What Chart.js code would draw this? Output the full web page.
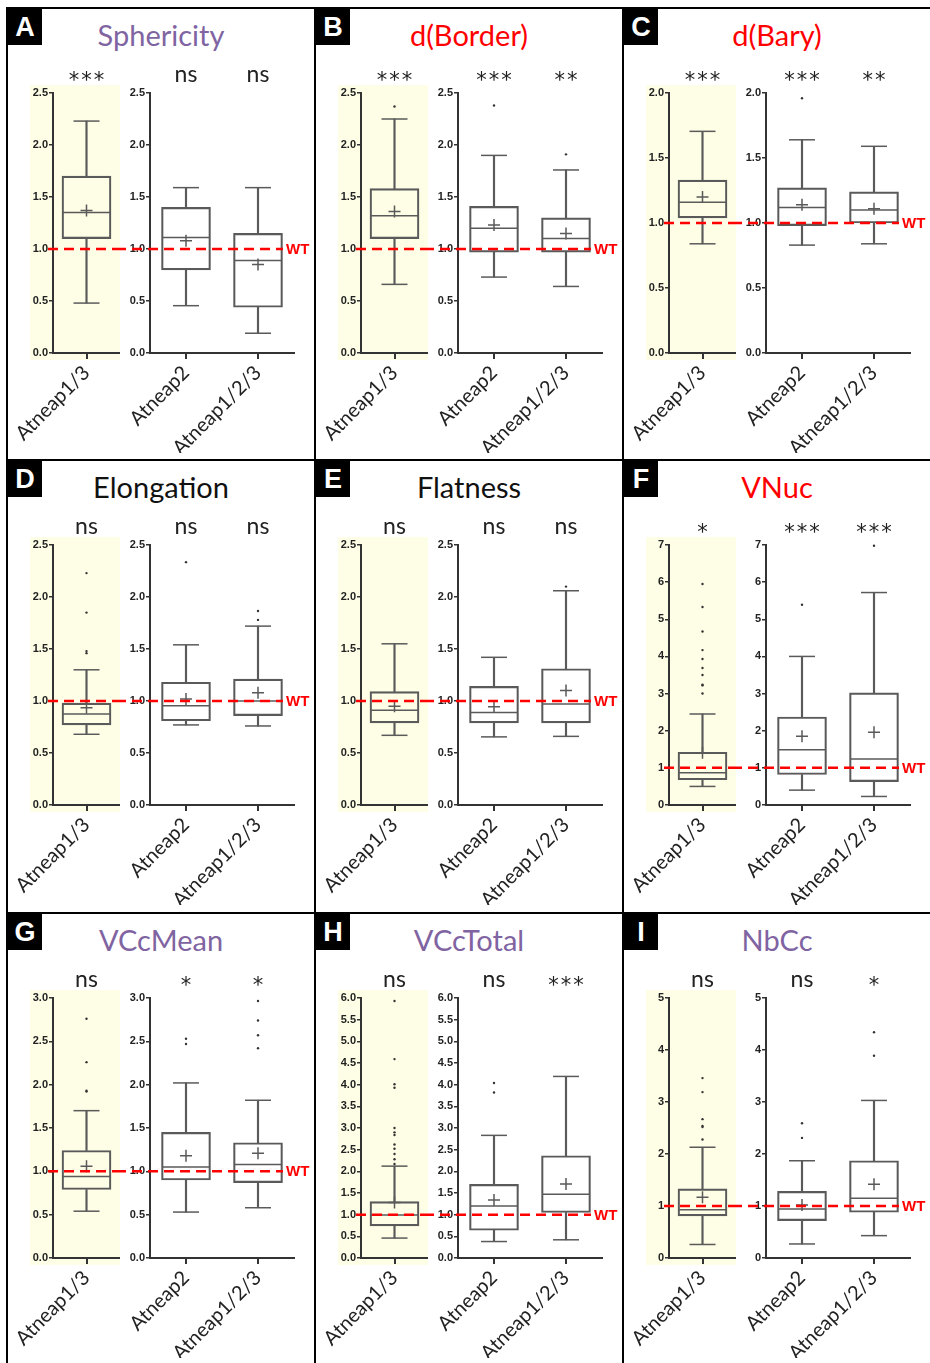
<!DOCTYPE html>
<html>
<head>
<meta charset="utf-8">
<script src="https://cdn.jsdelivr.net/npm/chart.js@4.4.1/dist/chart.umd.min.js"></script>
<style>
    body { margin: 0; background: #fff; }
    #fig { position: relative; width: 930px; height: 1363px; overflow: hidden; background: #fff; }
    .panel { position: absolute; box-sizing: border-box; border-left: 2px solid #000; border-top: 2px solid #000; overflow: hidden; }
    .letter { position: absolute; left: 0; top: 0; width: 34px; height: 36px; background: #000; color: #fff;
              font: bold 27px "Liberation Sans", Arial, sans-serif; text-align: center; line-height: 37px; }
    .title { position: absolute; left: 0; width: 306px; top: 6px; height: 40px; line-height: 40px; text-align: center;
             font-family: Lato, "Open Sans", sans-serif; font-size: 29px; }
    canvas { position: absolute; }
</style>
</head>
<body>
<div id="fig"></div>
<script>
// groups shown in every panel
const groups = ['Atneap1/3', 'Atneap2', 'Atneap1/2/3'];
const letters = ['A', 'B', 'C', 'D', 'E', 'F', 'G', 'H', 'I'];
const titles = ['Sphericity', 'd(Border)', 'd(Bary)', 'Elongation', 'Flatness', 'VNuc', 'VCcMean', 'VCcTotal', 'NbCc'];

// y axis range per panel
const yMax = [2.5, 2.5, 2.0, 2.5, 2.5, 7, 3.0, 6.0, 5];
const yStep = [0.5, 0.5, 0.5, 0.5, 0.5, 1, 0.5, 0.5, 1];

// box plot values, one row per panel, one column per group
const whiskerLow = [
    [0.48, 0.455, 0.19],
    [0.66, 0.73, 0.64],
    [0.84, 0.83, 0.84],
    [0.68, 0.77, 0.76],
    [0.67, 0.655, 0.66],
    [0.50, 0.40, 0.23],
    [0.54, 0.53, 0.58],
    [0.46, 0.38, 0.42],
    [0.26, 0.27, 0.43]
];
const q1 = [
    [1.10, 0.80, 0.44],
    [1.10, 0.97, 0.97],
    [1.04, 0.98, 1.00],
    [0.77, 0.81, 0.86],
    [0.79, 0.79, 0.79],
    [0.68, 0.82, 0.63],
    [0.79, 0.90, 0.87],
    [0.74, 0.64, 1.05],
    [0.81, 0.72, 0.88]
];
const median = [
    [1.35, 1.11, 0.89],
    [1.32, 1.20, 1.10],
    [1.16, 1.12, 1.10],
    [0.875, 0.955, 1.00],
    [0.91, 0.89, 0.97],
    [0.87, 1.49, 1.24],
    [0.94, 1.05, 1.08],
    [0.99, 1.20, 1.47],
    [0.93, 0.94, 1.15]
];
const q3 = [
    [1.70, 1.40, 1.15],
    [1.58, 1.41, 1.30],
    [1.33, 1.27, 1.24],
    [0.98, 1.18, 1.21],
    [1.09, 1.14, 1.31],
    [1.42, 2.37, 3.02],
    [1.24, 1.45, 1.33],
    [1.30, 1.70, 2.36],
    [1.33, 1.28, 1.87]
];
const whiskerHigh = [
    [2.23, 1.59, 1.59],
    [2.25, 1.90, 1.76],
    [1.705, 1.64, 1.59],
    [1.30, 1.54, 1.72],
    [1.55, 1.42, 2.06],
    [2.45, 4.00, 5.72],
    [1.70, 2.02, 1.82],
    [2.12, 2.83, 4.19],
    [2.13, 1.87, 3.03]
];
const mean = [
    [1.37, 1.08, 0.85],
    [1.36, 1.23, 1.15],
    [1.20, 1.14, 1.11],
    [0.935, 1.02, 1.08],
    [0.95, 0.945, 1.10],
    [1.41, 1.85, 1.96],
    [1.06, 1.18, 1.21],
    [1.28, 1.34, 1.71],
    [1.17, 1.02, 1.42]
];
const outliers = [
    [[], [], []],
    [[2.37], [2.38], [1.91]],
    [[], [1.96], []],
    [[2.23, 1.85, 1.48, 1.46], [2.335], [1.865, 1.78]],
    [[], [], [2.10]],
    [[5.95, 5.33, 4.67, 4.17, 3.93, 3.69, 3.50, 3.24, 3.22, 3.00], [5.39], [6.98]],
    [[2.76, 2.26, 1.93, 1.92], [2.53, 2.47], [2.965, 2.74, 2.57, 2.42]],
    [[5.93, 4.59, 4.01, 3.93, 3.00, 2.90, 2.84, 2.62, 2.52, 2.40, 2.28, 2.17], [4.04, 3.82], []],
    [[3.46, 3.19, 2.67, 2.54, 2.52, 2.28], [2.59, 2.31], [4.34, 3.89]]
];
const signif = [
    ['***', 'ns', 'ns'],
    ['***', '***', '**'],
    ['***', '***', '**'],
    ['ns', 'ns', 'ns'],
    ['ns', 'ns', 'ns'],
    ['*', '***', '***'],
    ['ns', '*', '*'],
    ['ns', 'ns', '***'],
    ['ns', 'ns', '*']
];
const wtLevel = 1.0;

// styles
const PURPLE = '#8064a2', RED = '#ff0000';
const titleColors = [PURPLE, RED, RED, '#111', '#111', RED, PURPLE, PURPLE, PURPLE];
const AXIS = '#333';
const BOX = '#5a5a5a';
const SHADE = '#fefde6';
const colX = [6, 314, 622, 930];
const rowY = [7, 459, 912, 1363];

// yellow background, WT line and significance marks
const deco = {
    id: 'deco',
    beforeDraw(chart, args, o) {
        if (!o.shade) return;
        const a = chart.chartArea, ctx = chart.ctx;
        ctx.save();
        ctx.fillStyle = SHADE;
        ctx.fillRect(a.left - 23, a.top - 8, a.right - a.left + 23, a.bottom - a.top + 15);
        ctx.restore();
    },
    afterDatasetsDraw(chart, args, o) {
        const a = chart.chartArea, ctx = chart.ctx;
        const y = chart.scales.y.getPixelForValue(wtLevel);
        ctx.save();
        ctx.strokeStyle = RED;
        ctx.lineWidth = 2.5;
        ctx.setLineDash([10, 6]);
        ctx.beginPath();
        if (o.shade) {
            ctx.moveTo(a.left - 5, y);
            ctx.lineTo(chart.width, y);
        } else {
            ctx.lineDashOffset = 4;
            ctx.moveTo(0, y);
            ctx.lineTo(a.right - 11, y);
        }
        ctx.stroke();
        if (!o.shade) {
            ctx.fillStyle = RED;
            ctx.font = 'bold 15px "Liberation Sans", Arial, sans-serif';
            ctx.textBaseline = 'middle';
            ctx.fillText('WT', a.right - 8, y + 1);
        }
        ctx.restore();
    },
    afterDraw(chart, args, o) {
        const a = chart.chartArea, ctx = chart.ctx;
        ctx.save();
        ctx.fillStyle = '#222';
        ctx.textAlign = 'center';
        ctx.textBaseline = 'alphabetic';
        o.sig.forEach((s, k) => {
            const x = chart.scales.x.getPixelForValue(k);
            const mid = a.top - 17;
            if (s.includes('*')) {
                ctx.font = '21px "DejaVu Sans", sans-serif';
                ctx.fillText(s.split('').join('\u200a'), x, mid + 11);
            } else {
                ctx.font = '23px Lato, "Open Sans", sans-serif';
                ctx.fillText(s, x, mid + 6);
            }
        });
        ctx.restore();
    }
};

function boxDatasets(p, idx) {
    const lineMark = (vals, style, r) => ({
        type: 'line', data: vals, showLine: false, clip: false,
        pointStyle: style, pointRadius: r, pointBorderColor: BOX, pointBorderWidth: 1.5,
        pointBackgroundColor: BOX, borderColor: BOX
    });
    const dots = [];
    idx.forEach(i => outliers[p][i].forEach(v => dots.push({ x: groups[i], y: v })));
    return [
        lineMark(idx.map(i => median[p][i]), 'line', 24),
        lineMark(idx.map(i => mean[p][i]), 'cross', 6),
        lineMark(idx.map(i => whiskerHigh[p][i]), 'line', 13),
        lineMark(idx.map(i => whiskerLow[p][i]), 'line', 13),
        {
            type: 'line', data: dots, showLine: false, clip: false, pointStyle: 'circle', pointRadius: 1.2,
            pointBackgroundColor: '#333', pointBorderWidth: 0
        },
        {
            type: 'bar', data: idx.map(i => [q1[p][i], q3[p][i]]), grouped: false, barThickness: 49, clip: false,
            backgroundColor: 'rgba(0,0,0,0)', borderColor: BOX, borderWidth: 1.5, borderSkipped: false
        },
        {
            type: 'bar', data: idx.map(i => [q3[p][i], whiskerHigh[p][i]]), grouped: false, barThickness: 1.5,
            clip: false, backgroundColor: BOX, borderWidth: 0
        },
        {
            type: 'bar', data: idx.map(i => [whiskerLow[p][i], q1[p][i]]), grouped: false, barThickness: 1.5,
            clip: false, backgroundColor: BOX, borderWidth: 0
        }
    ];
}

function makeChart(canvas, p, idx, first) {
    return new Chart(canvas, {
        type: 'bar',
        data: { labels: idx.map(i => groups[i]), datasets: boxDatasets(p, idx) },
        options: {
            responsive: false,
            animation: false,
            events: [],
            layout: { autoPadding: false, padding: { top: 44, right: first ? 0 : 22, left: 0, bottom: 0 } },
            plugins: {
                legend: { display: false },
                tooltip: { enabled: false },
                deco: { shade: first, sig: idx.map(i => signif[p][i]) }
            },
            scales: {
                x: {
                    type: 'category',
                    offset: true,
                    grid: { display: true, drawOnChartArea: false, offset: false, tickLength: 6, color: AXIS, lineWidth: 2 },
                    border: { display: true, color: AXIS, width: 2 },
                    ticks: {
                        minRotation: 45, maxRotation: 45, autoSkip: false, padding: 2, color: '#222',
                        font: { family: 'Lato, "Open Sans", sans-serif', size: 20 }
                    },
                    afterFit(s) { s.height = 100; s.paddingLeft = 0; s.paddingRight = 0; }
                },
                y: {
                    min: 0,
                    max: yMax[p],
                    grid: { display: true, drawOnChartArea: false, tickLength: 4, color: AXIS, lineWidth: 1.5 },
                    border: { display: true, color: AXIS, width: 2 },
                    ticks: {
                        stepSize: yStep[p], autoSkip: false, padding: 1, color: '#222',
                        font: { family: '"Liberation Sans", Arial, sans-serif', weight: 'bold', size: 11 },
                        callback: v => yStep[p] >= 1 ? v : v.toFixed(1)
                    },
                    afterFit(s) { s.width = first ? 45 : 30; s.paddingTop = 0; s.paddingBottom = 0; }
                }
            }
        },
        plugins: [deco]
    });
}

const fig = document.getElementById('fig');
titles.forEach((title, p) => {
    const c = p % 3, r = Math.floor(p / 3);
    const panel = document.createElement('div');
    panel.className = 'panel';
    panel.style.left = colX[c] + 'px';
    panel.style.top = rowY[r] + 'px';
    panel.style.width = (colX[c + 1] - colX[c]) + 'px';
    panel.style.height = (rowY[r + 1] - rowY[r]) + 'px';

    const letter = document.createElement('div');
    letter.className = 'letter';
    letter.textContent = letters[p];
    panel.appendChild(letter);

    const t = document.createElement('div');
    t.className = 'title';
    t.style.color = titleColors[p];
    t.textContent = title;
    panel.appendChild(t);

    const cv1 = document.createElement('canvas');
    cv1.width = 112; cv1.height = 404;
    cv1.style.left = '0px'; cv1.style.top = '40px';
    panel.appendChild(cv1);

    const cv2 = document.createElement('canvas');
    cv2.width = 196; cv2.height = 404;
    cv2.style.left = '112px'; cv2.style.top = '40px';
    panel.appendChild(cv2);

    fig.appendChild(panel);
    makeChart(cv1, p, [0], true);
    makeChart(cv2, p, [1, 2], false);
});
</script>
</body>
</html>
